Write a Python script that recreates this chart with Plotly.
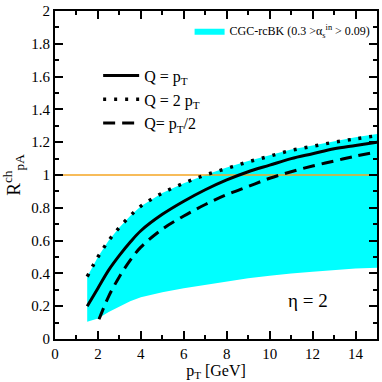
import plotly.graph_objects as go

# ---- data ----
pt = [1.5, 2, 2.5, 3, 3.5, 4, 5, 6, 7, 8, 9, 10, 11, 12, 13, 14, 15]
band_top = [0.38, 0.50, 0.60, 0.68, 0.75, 0.81, 0.89, 0.95, 1.00, 1.045, 1.085, 1.12, 1.155, 1.18, 1.205, 1.23, 1.25]
band_bot = [0.105, 0.125, 0.165, 0.20, 0.23, 0.255, 0.285, 0.31, 0.33, 0.35, 0.37, 0.385, 0.40, 0.41, 0.42, 0.43, 0.435]
q_pt = [0.20, 0.31, 0.42, 0.51, 0.59, 0.66, 0.76, 0.84, 0.91, 0.97, 1.02, 1.06, 1.10, 1.13, 1.16, 1.18, 1.20]
q_2pt = [0.38, 0.50, 0.60, 0.68, 0.75, 0.81, 0.89, 0.95, 1.00, 1.04, 1.08, 1.115, 1.15, 1.175, 1.20, 1.22, 1.24]
pt_half = [2.05, 2.5, 3, 3.5, 4, 5, 6, 7, 8, 9, 10, 11, 12, 13, 14, 15]
q_half = [0.12, 0.26, 0.38, 0.48, 0.56, 0.67, 0.75, 0.82, 0.88, 0.93, 0.98, 1.02, 1.055, 1.085, 1.115, 1.14]
ref_x = [0, 15]
ref_y = [1, 1]

FONT = "Liberation Serif, Times New Roman, Times, serif"
fig = go.Figure()

fig.add_trace(go.Scatter(x=pt, y=band_bot, mode="lines", line=dict(width=0, color="cyan"),
                         showlegend=False, hoverinfo="skip"))
fig.add_trace(go.Scatter(x=pt, y=band_top, mode="lines", line=dict(width=0, color="cyan"),
                         fill="tonexty", fillcolor="#00FFFF",
                         name="CGC-rcBK (0.3 >α<sub>s</sub><sup>in</sup> > 0.09)",
                         legend="legend2"))
fig.add_trace(go.Scatter(x=ref_x, y=ref_y, mode="lines", line=dict(color="#F5A623", width=1.5),
                         showlegend=False, hoverinfo="skip"))
fig.add_trace(go.Scatter(x=pt, y=q_pt, mode="lines", line=dict(color="black", width=3),
                         name="Q = p<sub>T</sub>", line_shape="spline"))
fig.add_trace(go.Scatter(x=pt, y=q_2pt, mode="lines", line=dict(color="black", width=3.5, dash="3px,8px"),
                         name="Q = 2 p<sub>T</sub>", line_shape="spline"))
fig.add_trace(go.Scatter(x=pt_half, y=q_half, mode="lines", line=dict(color="black", width=3, dash="12px,7px"),
                         name="Q= p<sub>T</sub>/2", line_shape="spline"))

fig.add_annotation(x=11.8, y=0.235, xref="x", yref="y", text="η = 2", showarrow=False,
                   font=dict(family=FONT, size=19, color="black"))

axis_common = dict(showline=True, linecolor="black", linewidth=2, mirror="ticks",
                   ticks="inside", tickwidth=2, tickcolor="black", ticklen=8,
                   showgrid=False, zeroline=False,
                   tickfont=dict(family=FONT, size=15, color="black"))

fig.update_xaxes(range=[0, 15], dtick=2, tick0=0,
                 minor=dict(dtick=1, ticks="inside", ticklen=4, tickwidth=1.5, tickcolor="black"),
                 title=dict(text="p<sub>T</sub> [GeV]", font=dict(family=FONT, size=16, color="black"), standoff=3),
                 **axis_common)
fig.update_yaxes(range=[0, 2], dtick=0.2, tick0=0, tickformat="~g",
                 minor=dict(dtick=0.1, ticks="inside", ticklen=4, tickwidth=1.5, tickcolor="black"),
                 title=dict(text="R<sup>ch</sup><sub>pA</sub>", font=dict(family=FONT, size=19, color="black"), standoff=6),
                 **axis_common)

fig.update_layout(
    width=382, height=382,
    margin=dict(l=55, r=3, t=10, b=43),
    plot_bgcolor="white", paper_bgcolor="white",
    font=dict(family=FONT, color="black"),
    legend=dict(x=0.134, y=0.855, xanchor="left", yanchor="top", bgcolor="rgba(0,0,0,0)",
                font=dict(family=FONT, size=16, color="black"), itemwidth=36,
                traceorder="normal", tracegroupgap=0),
    legend2=dict(x=0.418, y=0.984, xanchor="left", yanchor="top", bgcolor="rgba(0,0,0,0)",
                 font=dict(family=FONT, size=12, color="black"), itemwidth=30),
)

fig.write_html("out.html", config={"displayModeBar": False},
               post_script="document.body.style.margin='0';document.body.style.padding='0';")
